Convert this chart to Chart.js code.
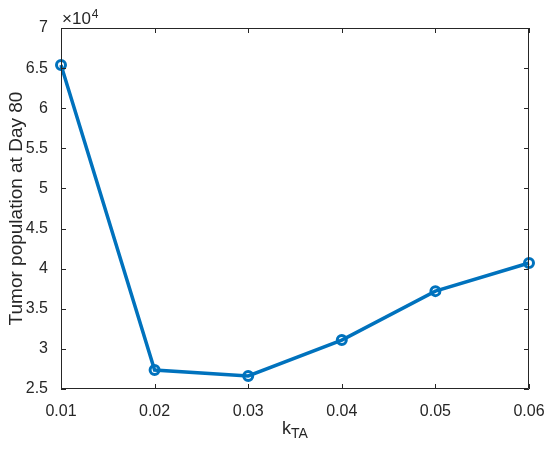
<!DOCTYPE html>
<html>
<head>
<meta charset="utf-8">
<script src="https://cdn.jsdelivr.net/npm/chart.js@4.4.0/dist/chart.umd.min.js"></script>
<style>
  html, body { margin: 0; padding: 0; background: #fff; }
  #wrap { width: 550px; height: 451px; }
</style>
</head>
<body>
<div id="wrap"><canvas id="c" width="550" height="451"></canvas></div>
<script>
// данные с картинки
const kTA = [0.01, 0.02, 0.03, 0.04, 0.05, 0.06];
const tumorDay80 = [65400, 27370, 26620, 31100, 37200, 40700];
const xTicks = [0.01, 0.02, 0.03, 0.04, 0.05, 0.06];
const yTicks = [25000, 30000, 35000, 40000, 45000, 50000, 55000, 60000, 65000, 70000];

const AX = '#262626';
const FONT = '"Liberation Sans", Arial, sans-serif';

// рамка, внутренние засечки, подписи осей
const matlabAxes = {
    id: 'matlabAxes',
    afterDraw(chart) {
        const ctx = chart.ctx;
        const a = chart.chartArea;
        const xs = chart.scales.x, ys = chart.scales.y;
        ctx.save();
        ctx.strokeStyle = AX;
        ctx.lineWidth = 1;
        ctx.beginPath();
        ctx.rect(a.left + 0.5, a.top + 0.5, a.right - a.left - 1, a.bottom - a.top - 1);
        const tl = 5;
        xTicks.forEach(v => {
            const px = Math.round(xs.getPixelForValue(v)) + 0.5;
            ctx.moveTo(px, a.bottom); ctx.lineTo(px, a.bottom - tl);
            ctx.moveTo(px, a.top); ctx.lineTo(px, a.top + tl);
        });
        yTicks.forEach(v => {
            const py = Math.round(ys.getPixelForValue(v)) + 0.5;
            ctx.moveTo(a.left, py); ctx.lineTo(a.left + tl, py);
            ctx.moveTo(a.right, py); ctx.lineTo(a.right - tl, py);
        });
        ctx.stroke();

        ctx.fillStyle = AX;
        // множитель
        ctx.font = '17px ' + FONT;
        ctx.textAlign = 'left';
        ctx.textBaseline = 'alphabetic';
        ctx.fillText('\u00d710', a.left + 1, a.top - 4);
        const w = ctx.measureText('\u00d710').width;
        ctx.font = '12px ' + FONT;
        ctx.fillText('4', a.left + 1 + w + 1, a.top - 10);

        // подпись оси x с индексом
        ctx.font = '18px ' + FONT;
        const kw = ctx.measureText('k').width;
        ctx.font = '14px ' + FONT;
        const sw = ctx.measureText('TA').width;
        const cx = (a.left + a.right) / 2;
        const x0 = cx - (kw + sw) / 2;
        ctx.font = '18px ' + FONT;
        ctx.fillText('k', x0, 434);
        ctx.font = '14px ' + FONT;
        ctx.fillText('TA', x0 + kw, 438);

        // подпись оси y
        ctx.font = '19px ' + FONT;
        ctx.textAlign = 'center';
        ctx.textBaseline = 'middle';
        ctx.translate(17, (a.top + a.bottom) / 2);
        ctx.rotate(-Math.PI / 2);
        ctx.fillText('Tumor population at Day 80', 0, 0);
        ctx.restore();
    }
};

new Chart(document.getElementById('c'), {
    type: 'line',
    data: {
        datasets: [{
            data: kTA.map((x, i) => ({ x: x, y: tumorDay80[i] })),
            borderColor: '#0072BD',
            borderWidth: 3.5,
            pointRadius: 4.5,
            pointBorderWidth: 3,
            pointBackgroundColor: 'rgba(0,0,0,0)',
            pointBorderColor: '#0072BD',
            tension: 0,
            clip: false
        }]
    },
    options: {
        responsive: false,
        animation: false,
        layout: { padding: { top: 28, right: 21, left: 0, bottom: 0 } },
        plugins: { legend: { display: false }, tooltip: { enabled: false } },
        scales: {
            x: {
                type: 'linear',
                min: 0.01, max: 0.06,
                grid: { display: false },
                border: { display: false },
                afterBuildTicks: s => { s.ticks = xTicks.map(v => ({ value: v })); },
                afterFit: s => { s.height = 62; },
                ticks: {
                    color: AX, padding: 5,
                    font: { family: FONT, size: 16 },
                    maxRotation: 0,
                    callback: v => v.toFixed(2)
                }
            },
            y: {
                min: 25000, max: 70000,
                grid: { display: false },
                border: { display: false },
                afterBuildTicks: s => { s.ticks = yTicks.map(v => ({ value: v })); },
                afterFit: s => { s.width = 61; },
                ticks: {
                    color: AX, padding: 5,
                    font: { family: FONT, size: 16 },
                    callback: v => String(v / 10000)
                }
            }
        }
    },
    plugins: [matlabAxes]
});
</script>
</body>
</html>
